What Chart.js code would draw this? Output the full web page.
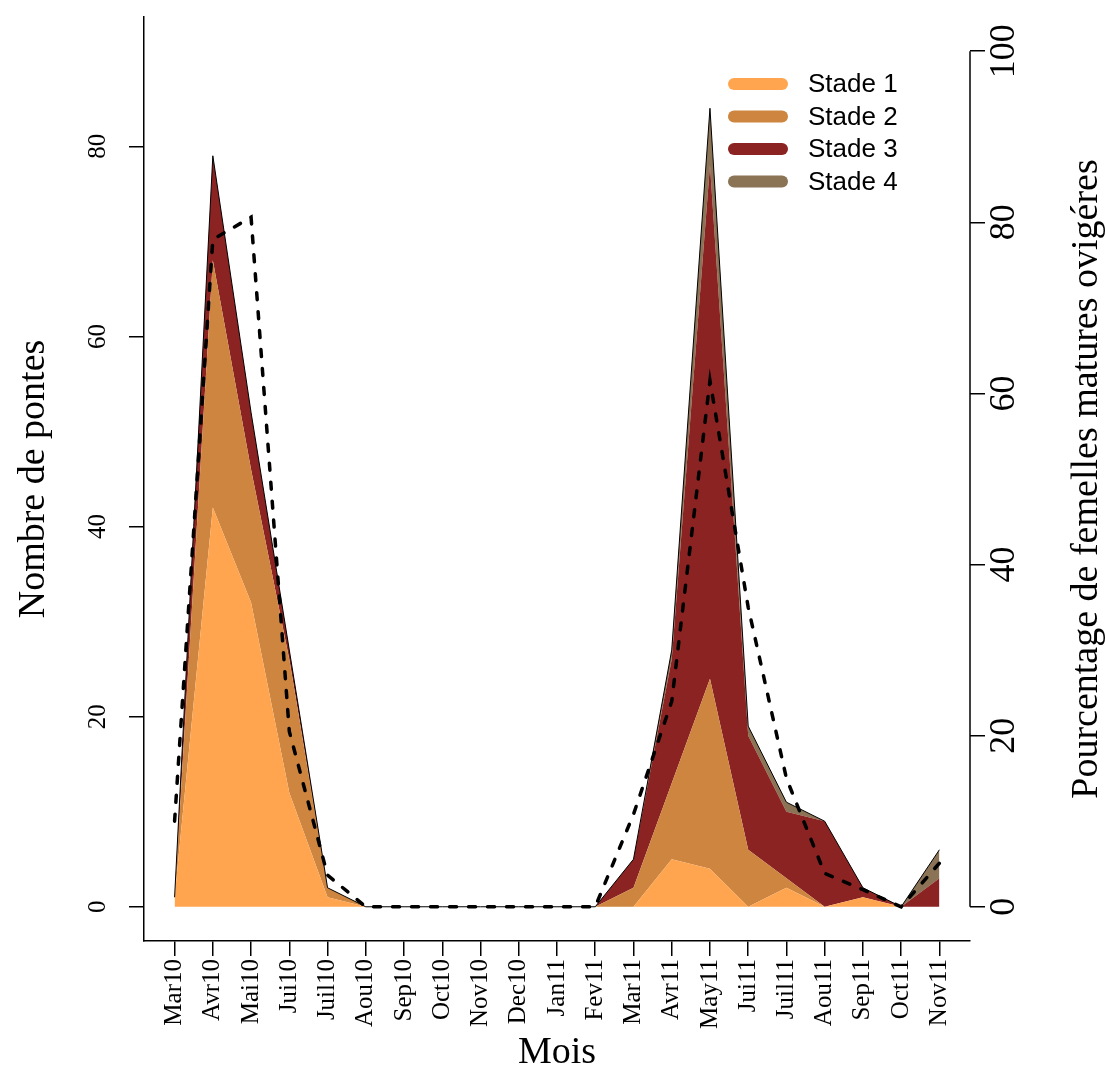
<!DOCTYPE html>
<html>
<head>
<meta charset="utf-8">
<script src="https://cdn.jsdelivr.net/npm/chart.js@4.4.1/dist/chart.umd.min.js"></script>
<style>
  html, body { margin: 0; padding: 0; background: #fff; }
</style>
</head>
<body>
<canvas id="ponteChart" width="1105" height="1066"></canvas>
<script>
// mois de suivi
const mois = ['Mar10', 'Avr10', 'Mai10', 'Jui10', 'Juil10', 'Aou10', 'Sep10', 'Oct10', 'Nov10', 'Dec10',
  'Jan11', 'Fev11', 'Mar11', 'Avr11', 'May11', 'Jui11', 'Juil11', 'Aou11', 'Sep11', 'Oct11', 'Nov11'];

// nombre de pontes par stade (empilés)
const stade1 = [1, 42, 32, 12, 1, 0, 0, 0, 0, 0, 0, 0, 0, 5, 4, 0, 2, 0, 1, 0, 0];
const stade2 = [0, 26, 14, 14, 1, 0, 0, 0, 0, 0, 0, 0, 2, 8, 20, 6, 1, 0, 0, 0, 0];
const stade3 = [0, 11, 6, 1, 0, 0, 0, 0, 0, 0, 0, 0, 3, 13, 54, 12, 7, 9, 1, 0, 3];
const stade4 = [0, 0, 0, 0, 0, 0, 0, 0, 0, 0, 0, 0, 0, 1, 6, 1, 1, 0, 0, 0, 3];

// pourcentage de femelles matures ovigeres (axe droit)
const pourcentage = [10, 78, 80.6, 20.5, 3.7, 0, 0, 0, 0, 0, 0, 0, 10.8, 24, 61.5, 35, 15, 3.9, 2, 0, 5.1];

const ticksGauche = [0, 20, 40, 60, 80];
const ticksDroite = [0, 20, 40, 60, 80, 100];

const couleurs = ['#FFA54F', '#CD853F', '#8B2323', '#8B7355'];
const serif = '"Liberation Serif", "Times New Roman", serif';

function aire(label, data, color, fill, outline) {
  return {
    label: label,
    data: data,
    yAxisID: 'y',
    backgroundColor: color,
    borderColor: outline ? '#000' : color,
    borderWidth: outline ? 1 : 0,
    fill: fill,
    tension: 0,
    pointRadius: 0
  };
}

// textes des axes et légende dessinés à la main (style R)
const texteAxes = {
  id: 'texteAxes',
  afterDraw(chart) {
    const ctx = chart.ctx;
    const area = chart.chartArea;
    const y = chart.scales.y;
    const y2 = chart.scales.y2;
    ctx.save();
    ctx.fillStyle = '#000';
    ctx.strokeStyle = '#000';

    // axe droit : ligne de 0 à 100
    ctx.lineWidth = 1.5;
    ctx.beginPath();
    ctx.moveTo(area.right, y2.getPixelForValue(0));
    ctx.lineTo(area.right, y2.getPixelForValue(100));
    ctx.stroke();

    ctx.textAlign = 'center';
    ctx.textBaseline = 'alphabetic';
    ctx.font = '25px ' + serif;
    ticksGauche.forEach(v => {
      ctx.save();
      ctx.translate(area.left - 39, y.getPixelForValue(v));
      ctx.rotate(-Math.PI / 2);
      ctx.fillText(String(v), 0, 0);
      ctx.restore();
    });
    ctx.font = '36px ' + serif;
    ticksDroite.forEach(v => {
      ctx.save();
      ctx.translate(area.right + 44, y2.getPixelForValue(v));
      ctx.rotate(-Math.PI / 2);
      ctx.fillText(String(v), 0, 0);
      ctx.restore();
    });

    const midY = (area.top + area.bottom) / 2;
    ctx.font = '38px ' + serif;
    ctx.save();
    ctx.translate(44, midY);
    ctx.rotate(-Math.PI / 2);
    ctx.fillText('Nombre de pontes', 0, 0);
    ctx.restore();

    ctx.save();
    ctx.translate(1097, midY);
    ctx.rotate(-Math.PI / 2);
    ctx.fillText('Pourcentage de femelles matures ovigéres', 0, 0);
    ctx.restore();

    ctx.fillText('Mois', (area.left + area.right) / 2, 1063);

    // légende
    ctx.font = '26px "Liberation Sans", Arial, sans-serif';
    ctx.textAlign = 'left';
    ctx.textBaseline = 'middle';
    ctx.lineCap = 'round';
    ctx.lineWidth = 12;
    chart.data.datasets.slice(0, 4).forEach((ds, i) => {
      const ly = 84 + i * 32.5;
      ctx.strokeStyle = ds.backgroundColor;
      ctx.beginPath();
      ctx.moveTo(734, ly);
      ctx.lineTo(782, ly);
      ctx.stroke();
      ctx.fillText(ds.label, 808, ly + 1);
    });
    ctx.restore();
  }
};

const ctx = document.getElementById('ponteChart').getContext('2d');
const chart = new Chart(ctx, {
  type: 'line',
  data: {
    labels: mois.map((m, i) => i),
    datasets: [
      aire('Stade 1', stade1, couleurs[0], 'origin', false),
      aire('Stade 2', stade2, couleurs[1], '-1', false),
      aire('Stade 3', stade3, couleurs[2], '-1', false),
      aire('Stade 4', stade4, couleurs[3], '-1', true),
      {
        label: 'Pourcentage',
        data: pourcentage,
        yAxisID: 'y2',
        borderColor: '#000',
        borderWidth: 3.5,
        borderDash: [7, 12],
        borderCapStyle: 'round',
        fill: false,
        tension: 0,
        pointRadius: 0
      }
    ]
  },
  options: {
    responsive: false,
    animation: false,
    devicePixelRatio: 1,
    layout: { padding: { top: 17, left: 0, right: 0, bottom: 0 } },
    plugins: {
      legend: { display: false },
      tooltip: { enabled: false },
      filler: { drawTime: 'beforeDatasetsDraw' }
    },
    scales: {
      x: {
        type: 'linear',
        min: -0.8,
        max: 20.8,
        afterBuildTicks: s => { s.ticks = mois.map((m, i) => ({ value: i })); },
        afterFit: s => { s.height = 125; },
        ticks: {
          autoSkip: false,
          minRotation: 90,
          maxRotation: 90,
          padding: 3,
          color: '#000',
          font: { family: serif, size: 25 },
          callback: v => mois[v]
        },
        grid: { drawOnChartArea: false, color: '#000', lineWidth: 1.5, tickLength: 15 },
        border: { display: true, color: '#000', width: 1.5 }
      },
      y: {
        position: 'left',
        stacked: true,
        min: -3.6,
        max: 93.6,
        afterBuildTicks: s => { s.ticks = ticksGauche.map(v => ({ value: v })); },
        afterFit: s => { s.width = 144; },
        ticks: { display: false },
        grid: { drawOnChartArea: false, color: '#000', lineWidth: 1.5, tickLength: 15 },
        border: { display: true, color: '#000', width: 1.5 }
      },
      y2: {
        position: 'right',
        min: -4,
        max: 104,
        afterBuildTicks: s => { s.ticks = ticksDroite.map(v => ({ value: v })); },
        afterFit: s => { s.width = 135; },
        ticks: { display: false },
        grid: { drawOnChartArea: false, color: '#000', lineWidth: 1.5, tickLength: 15 },
        border: { display: false }
      }
    }
  },
  plugins: [texteAxes]
});
</script>
</body>
</html>
